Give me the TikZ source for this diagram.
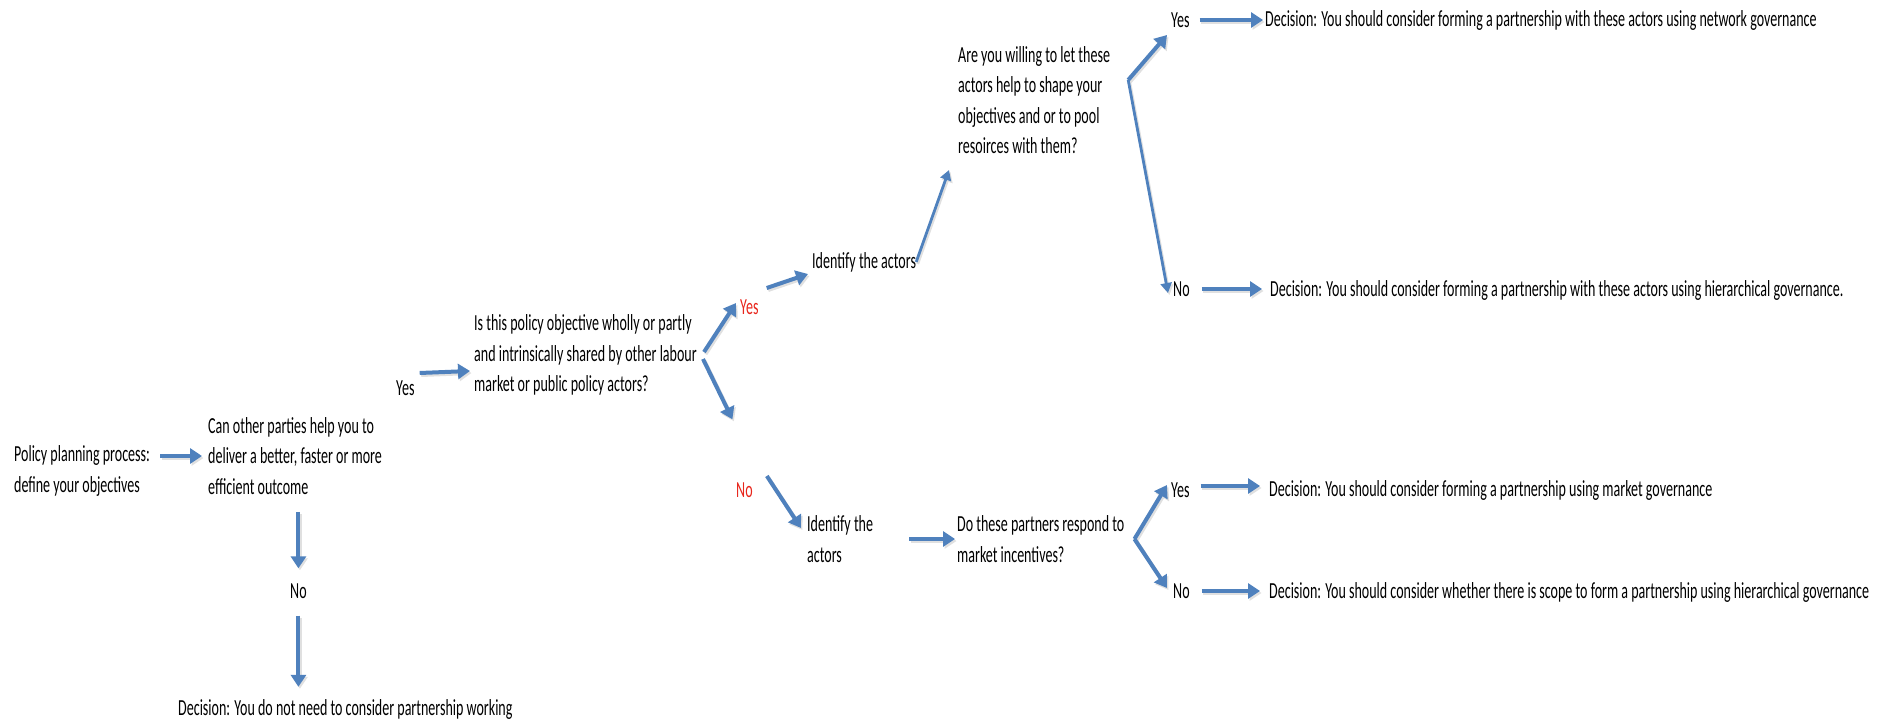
\documentclass[tikz,border=0pt]{standalone}
\usepackage{fontspec}
\setmainfont{Carlito}[FakeStretch=0.61]
\usetikzlibrary{arrows.meta,calc}
\definecolor{arrowblue}{HTML}{4F81BD}
\definecolor{redtxt}{HTML}{E8261C}
\begin{document}
\begin{tikzpicture}[x=1pt,y=-1pt,
  txt/.style={anchor=west, inner sep=0pt, align=left, font=\fontsize{23}{30.5}\selectfont, text=black},
  arr/.style={draw=arrowblue, line width=4pt, -{Triangle[length=12pt,width=15pt]},
    preaction={draw=black!12, line width=4pt, -{Triangle[length=12pt,width=15pt]}, transform canvas={shift={(1.5pt,-2pt)}}}},
  slimarr/.style={draw=arrowblue, line width=2.8pt, -{Triangle[length=10pt,width=11pt]},
    preaction={draw=black!12, line width=2.8pt, -{Triangle[length=10pt,width=11pt]}, transform canvas={shift={(1.5pt,-2pt)}}}}]
\useasboundingbox (0,0) rectangle (1883,722);
% nodes
\node[txt] (start) at (14,471) {Policy planning process:\\define your objectives};
\node[txt] (q1) at (208,456) {Can other parties help you to\\deliver a better, faster or more\\efficient outcome};
\node[txt] (yes1) at (396,388) {Yes};
\node[txt] (q2) at (474,355) {Is this policy objective wholly or partly\\and intrinsically shared by other labour\\market or public policy actors?};
\node[txt, text=redtxt] (yesr) at (740,307) {Yes};
\node[txt] (id1) at (812,262) {Identify the actors};
\node[txt] (q3) at (958,100) {Are you willing to let these\\actors help to shape your\\objectives and or to pool\\resoirces with them?};
\node[txt] (yesa) at (1171,20) {Yes};
\node[txt] (deca) at (1265,20) {Decision: You should consider forming a partnership with these actors using network governance};
\node[txt] (noa) at (1173,289) {No};
\node[txt] (decb) at (1270,290) {Decision: You should consider forming a partnership with these actors using hierarchical governance.};
\node[txt, text=redtxt] (nor) at (736,490) {No};
\node[txt] (id2) at (807,539) {Identify the\\actors};
\node[txt] (q4) at (957,539) {Do these partners respond to\\market incentives?};
\node[txt] (yesb) at (1171,490) {Yes};
\node[txt] (nob) at (1173,591) {No};
\node[txt] (decc) at (1269,490) {Decision: You should consider forming a partnership using market governance};
\node[txt] (decd) at (1269,592) {Decision: You should consider whether there is scope to form a partnership using hierarchical governance};
\node[txt] (no1) at (290,591) {No};
\node[txt] (dec0) at (178,709) {Decision: You do not need to consider partnership working};
% branch points
\coordinate (b3) at ($(q3.east)+(18,-20)$);
\coordinate (b4) at ($(q4.east)+(10,0)$);
% connectors
\draw[arr] ($(start.east|-q1.west)+(10,0)$) -- ($(q1.west)+(-6,0)$);
\draw[arr] ($(q1.south-|no1.north)+(0,17)$) -- ($(no1.north)+(0,-15)$);
\draw[arr] ($(no1.south)+(0,17)$) -- ($(dec0.north-|no1.south)+(0,-12)$);
\draw[arr] ($(yes1.east)+(5,-15)$) -- ($(q2.west)+(-4,16)$);
\draw[arr] ($(q2.east)+(7,-3)$) -- ($(yesr.west)+(-4,-4)$);
\draw[arr] ($(q2.east)+(6,4)$) -- ($(nor.north)+(-12,-63)$);
\draw[arr] ($(yesr.east)+(8,-19)$) -- ($(id1.west)+(-4,12)$);
\draw[arr] ($(nor.east)+(14,-14)$) -- ($(id2.west)+(-6,-11)$);
\draw[slimarr] ($(id1.east)+(0,0)$) -- ($(q3.south west)+(-9,16)$);
\draw[arr] (b3) -- ($(yesa.west)+(-4,15)$);
\draw[slimarr] (b3) -- ($(noa.west)+(-5,4)$);
\draw[arr] ($(yesa.east)+(10,0)$) -- ($(deca.west|-yesa.east)+(-2,0)$);
\draw[arr] ($(noa.east)+(12,0)$) -- ($(decb.west|-noa.east)+(-8,0)$);
\draw[arr] ($(id2.east|-q4.west)+(36,0)$) -- ($(q4.west)+(-2,0)$);
\draw[arr] (b4) -- ($(yesb.west)+(-4,-5)$);
\draw[arr] (b4) -- ($(nob.west)+(-6,-3)$);
\draw[arr] ($(yesb.east)+(11,-4)$) -- ($(decc.west|-yesb.east)+(-9,-4)$);
\draw[arr] ($(nob.east)+(12,0)$) -- ($(decd.west|-nob.east)+(-9,0)$);
\end{tikzpicture}
\end{document}
